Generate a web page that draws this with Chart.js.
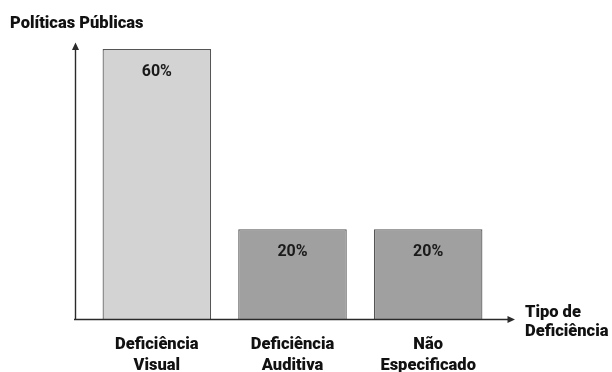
<!DOCTYPE html>
<html>
<head>
<meta charset="utf-8">
<script src="https://cdn.jsdelivr.net/npm/chart.js@4/dist/chart.umd.min.js"></script>
<style>
html,body{margin:0;padding:0;background:#fff;}
#wrap{width:612px;height:372px;position:relative;}
</style>
</head>
<body>
<div id="wrap"><canvas id="c" width="612" height="372"></canvas></div>
<script>
const categories = [["Deficiência","Visual"],["Deficiência","Auditiva"],["Não","Especificado"]];
const values = [60, 20, 20];
const valueLabels = ["60%", "20%", "20%"];
const barColors = ["#d3d3d3", "#a0a0a0", "#a0a0a0"];
const yTitle = "Políticas Públicas";
const xTitle = ["Tipo de", "Deficiência"];

const FONT = "Roboto, 'Noto Sans', sans-serif";

const axesPlugin = {
  id: 'axesPlugin',
  afterDatasetsDraw(chart) {
    const ctx = chart.ctx;
    const a = chart.chartArea;
    const xs = chart.scales.x;
    const meta = chart.getDatasetMeta(0);
    ctx.save();
    // value labels
    ctx.fillStyle = '#1a1a1a';
    ctx.font = 'bold 16px ' + FONT;
    ctx.textAlign = 'center';
    ctx.textBaseline = 'alphabetic';
    meta.data.forEach((bar, i) => {
      ctx.fillText(valueLabels[i], bar.x, bar.y + 26.5);
    });
    // axes
    const ax = 75.5, ay = a.bottom;
    ctx.strokeStyle = '#2a2a2a';
    ctx.fillStyle = '#2a2a2a';
    ctx.lineWidth = 1.4;
    ctx.beginPath();
    ctx.moveTo(ax, ay);
    ctx.lineTo(ax, 48);
    ctx.moveTo(74, ay);
    ctx.lineTo(509, ay);
    ctx.stroke();
    // arrowheads
    ctx.beginPath();
    ctx.moveTo(ax, 42.5);
    ctx.lineTo(ax - 3.5, 50);
    ctx.lineTo(ax + 3.5, 50);
    ctx.closePath();
    ctx.fill();
    ctx.beginPath();
    ctx.moveTo(515, ay);
    ctx.lineTo(507.5, ay - 3.5);
    ctx.lineTo(507.5, ay + 3.5);
    ctx.closePath();
    ctx.fill();
    // category labels
    ctx.fillStyle = '#111';
    ctx.font = '900 16.5px ' + FONT;
    ctx.textAlign = 'center';
    chart.data.labels.forEach((lab, i) => {
      const x = xs.getPixelForValue(i);
      lab.forEach((line, j) => {
        ctx.fillText(line, x, 349 + j * 21);
      });
    });
    // axis titles
    ctx.textAlign = 'left';
    ctx.font = '900 16.5px ' + FONT;
    ctx.fillText(yTitle, 10, 28);
    ctx.font = '900 16.5px ' + FONT;
    xTitle.forEach((line, j) => ctx.fillText(line, 525, 317 + j * 19));
    ctx.restore();
  }
};

new Chart(document.getElementById('c'), {
  type: 'bar',
  data: {
    labels: categories,
    datasets: [{
      data: values,
      backgroundColor: barColors,
      borderColor: '#555555',
      borderWidth: 1.2,
      barPercentage: 0.8,
      categoryPercentage: 1.0
    }]
  },
  options: {
    responsive: false,
    animation: false,
    devicePixelRatio: 1,
    layout: { padding: { left: 89, right: 116, top: 49, bottom: 52.5 } },
    plugins: { legend: { display: false }, tooltip: { enabled: false } },
    scales: {
      x: { display: false },
      y: { display: false, min: 0, max: 60 }
    }
  },
  plugins: [axesPlugin]
});
</script>
</body>
</html>
